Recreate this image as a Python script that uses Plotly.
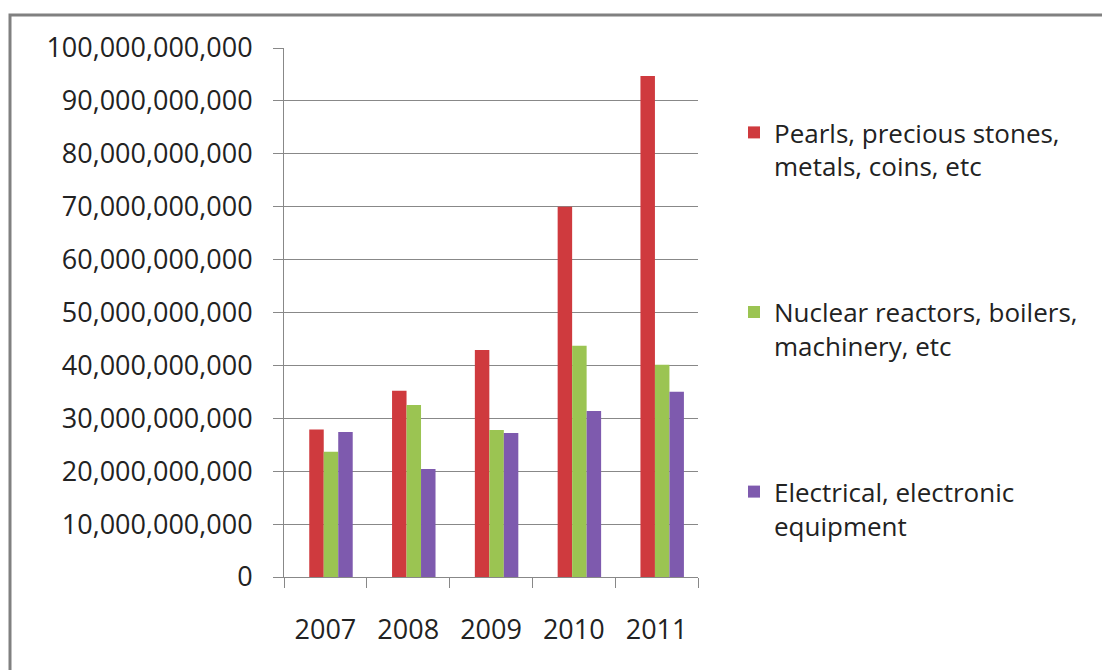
import plotly.graph_objects as go

years = ["2007", "2008", "2009", "2010", "2011"]
pearls = [27.9e9, 35.2e9, 42.9e9, 70.0e9, 94.7e9]
nuclear = [23.7e9, 32.5e9, 27.8e9, 43.7e9, 40.1e9]
electrical = [27.4e9, 20.4e9, 27.2e9, 31.4e9, 35.0e9]

names = ["Pearls, precious stones,<br>metals, coins, etc",
         "Nuclear reactors, boilers,<br>machinery, etc",
         "Electrical, electronic<br>equipment"]
colors = ["#CF3A3E", "#9BC452", "#7E5AAE"]
series = [pearls, nuclear, electrical]
bar_offsets = [-0.195, -0.02, 0.155]
bar_width = 0.175

W, H = 1102, 670
L, R, T, B = 284, 698, 48, 577

def px(x):
    return (x - L) / (R - L)

def py(y):
    return (B - y) / (B - T)

fig = go.Figure()
for i, (nm, vals, col) in enumerate(zip(names, series, colors)):
    fig.add_trace(go.Bar(x=years, y=vals, name=nm, marker_color=col,
                         marker_line_width=0, legendgroup=f"g{i}",
                         width=bar_width, offset=bar_offsets[i]))

font = "Open Sans, Lato, sans-serif"
fig.update_layout(
    width=W, height=H,
    margin=dict(l=L, r=W - R, t=T, b=H - B, pad=0),
    paper_bgcolor="white", plot_bgcolor="white",
    barmode="overlay",
    font=dict(family=font, size=26, color="#222"),
    showlegend=True,
    legend=dict(x=px(734), y=py(109), xanchor="left", yanchor="top",
                valign="top", tracegroupgap=109, traceorder="grouped",
                font=dict(family=font, size=26, color="#222"),
                bgcolor="rgba(0,0,0,0)"),
    xaxis=dict(type="category", showline=True, linecolor="#888", linewidth=1,
               ticks="outside", tickson="boundaries", ticklen=10, tickcolor="#888",
               showgrid=False, ticklabelstandoff=29,
               tickfont=dict(family=font, size=27, color="#222")),
    yaxis=dict(range=[0, 1e11], dtick=1e10, tickformat=",d", showline=True,
               linecolor="#888", linewidth=1, ticks="outside", ticklen=10,
               tickcolor="#888", showgrid=True, gridcolor="#888", gridwidth=1,
               ticklabelstandoff=15, zeroline=False,
               tickfont=dict(family=font, size=27, color="#222")),
    shapes=[dict(type="rect", xref="paper", yref="paper",
                 x0=px(10), x1=px(1120), y0=py(700), y1=py(15),
                 line=dict(color="#808080", width=3), layer="below")],
)

fig.write_html("out.html")
